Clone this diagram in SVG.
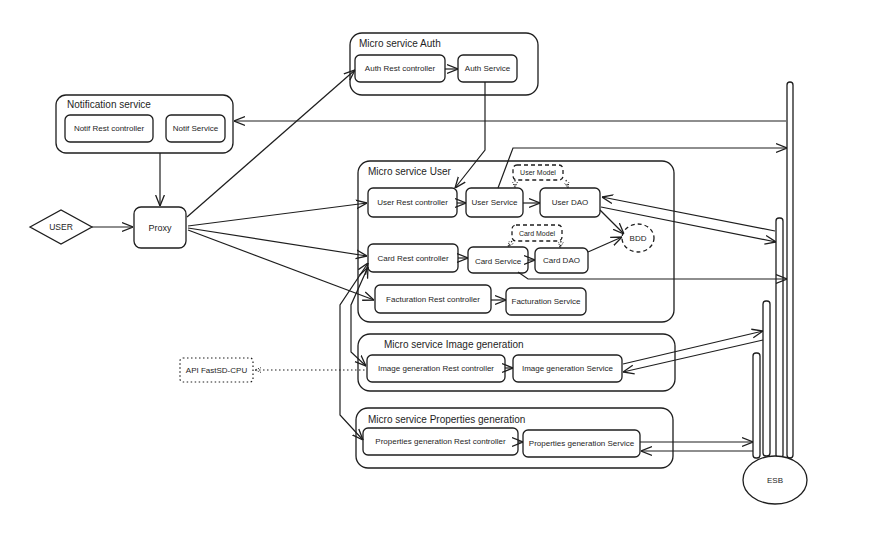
<svg xmlns="http://www.w3.org/2000/svg" width="876" height="538" viewBox="0 0 876 538">
<defs>
<style>
.c{fill:none;stroke:#1e1e1e;stroke-width:1.3}
.n{fill:#fff;stroke:#1e1e1e;stroke-width:1.3}
.d{fill:#fff;stroke:#1e1e1e;stroke-width:1.3;stroke-dasharray:4 3}
.o{fill:#fff;stroke:#1e1e1e;stroke-width:1.2;stroke-dasharray:1.5 2.5}
.t{font-family:"Liberation Sans",Arial,sans-serif;font-size:10px;fill:#1e1e1e}
.s{font-family:"Liberation Sans",Arial,sans-serif;font-size:8px;fill:#1e1e1e;text-anchor:middle;dominant-baseline:central}
.l{fill:none;stroke:#1e1e1e;stroke-width:1.2}
.dl{fill:none;stroke:#1e1e1e;stroke-width:1.2;stroke-dasharray:1.5 2.5}
</style>
<marker id="ah" viewBox="0 0 10 10" refX="10" refY="5" markerWidth="11" markerHeight="11" orient="auto-start-reverse" markerUnits="userSpaceOnUse"><path d="M0,1 L10,5 L0,9" fill="none" stroke="#1e1e1e" stroke-width="1.2"/></marker>
<marker id="sm" viewBox="0 0 10 10" refX="10" refY="5" markerWidth="6" markerHeight="6" orient="auto-start-reverse" markerUnits="userSpaceOnUse"><path d="M0,1 L10,5 L0,9" fill="none" stroke="#1e1e1e" stroke-width="1.5" stroke-dasharray="2 2"/></marker>
</defs>
<rect width="876" height="538" fill="#fff"/>

<g id="containers">
<g id="auth-ms"><rect class="c" x="350" y="33" width="188" height="62" rx="12"/><text class="t" x="359" y="47">Micro service Auth</text></g>
<g id="notif-ms"><rect class="c" x="56" y="95" width="177" height="58" rx="10"/><text class="t" x="67" y="108">Notification service</text></g>
<g id="user-ms"><rect class="c" x="358" y="161" width="316" height="161" rx="12"/><text class="t" x="368" y="175">Micro service User</text></g>
<g id="image-ms"><rect class="c" x="358" y="334" width="317" height="57" rx="12"/><text class="t" x="384" y="348">Micro service Image generation</text></g>
<g id="props-ms"><rect class="c" x="356" y="408" width="317" height="60" rx="12"/><text class="t" x="368" y="423">Micro service Properties generation</text></g>
</g>

<g id="auth-rest"><rect class="n" x="355" y="55" width="90" height="27" rx="5"/><text class="s" x="400" y="68.5">Auth Rest controller</text></g>
<g id="auth-service"><rect class="n" x="458" y="55" width="59" height="27" rx="5"/><text class="s" x="487.5" y="68.5">Auth Service</text></g>
<g id="notif-rest"><rect class="n" x="65" y="115" width="88" height="27" rx="5"/><text class="s" x="109" y="128.5">Notif Rest controller</text></g>
<g id="notif-service"><rect class="n" x="166" y="115" width="59" height="27" rx="5"/><text class="s" x="195.5" y="128.5">Notif Service</text></g>
<g id="user"><polygon class="n" points="30,227 61,210 92,227 61,244"/><text class="s" x="61" y="227" style="font-size:8.5px">USER</text></g>
<g id="proxy"><rect class="n" x="134" y="207" width="52" height="41" rx="7"/><text class="s" x="160" y="227.5" style="font-size:9px">Proxy</text></g>

<g id="user-rest"><rect class="n" x="368" y="188" width="89" height="29" rx="5"/><text class="s" x="412.5" y="202.5">User Rest controller</text></g>
<g id="user-service"><rect class="n" x="466" y="188" width="57" height="29" rx="5"/><text class="s" x="494.5" y="202.5">User Service</text></g>
<g id="user-dao"><rect class="n" x="540" y="188" width="60" height="29" rx="5"/><text class="s" x="570" y="202.5">User DAO</text></g>
<g id="user-model"><rect class="d" x="513" y="165" width="50" height="15" rx="4"/><text class="s" x="538" y="172.5" style="font-size:7px">User Model</text></g>
<g id="bdd"><ellipse class="d" cx="638" cy="238" rx="16" ry="14"/><text class="s" x="638" y="238">BDD</text></g>
<g id="card-model"><rect class="d" x="512" y="225" width="50" height="16" rx="4"/><text class="s" x="537" y="233" style="font-size:7px">Card Model</text></g>
<g id="card-rest"><rect class="n" x="368" y="244" width="90" height="28" rx="5"/><text class="s" x="413" y="258">Card Rest controller</text></g>
<g id="card-service"><rect class="n" x="468" y="247" width="60" height="26" rx="5"/><text class="s" x="498" y="261">Card Service</text></g>
<g id="card-dao"><rect class="n" x="535" y="248" width="53" height="25" rx="5"/><text class="s" x="561.5" y="260.5">Card DAO</text></g>
<g id="fact-rest"><rect class="n" x="375" y="285" width="116" height="28" rx="5"/><text class="s" x="433" y="299">Facturation Rest controller</text></g>
<g id="fact-service"><rect class="n" x="506" y="288" width="80" height="27" rx="5"/><text class="s" x="546" y="301.5">Facturation Service</text></g>

<g id="api-fastsd"><rect class="o" x="180" y="358" width="73" height="24" rx="3"/><text class="s" x="216.5" y="370">API FastSD-CPU</text></g>
<g id="image-rest"><rect class="n" x="367" y="355" width="138" height="27" rx="5"/><text class="s" x="436" y="368.5">Image generation Rest controller</text></g>
<g id="image-service"><rect class="n" x="513" y="355" width="109" height="27" rx="5"/><text class="s" x="567.5" y="368.5">Image generation Service</text></g>
<g id="props-rest"><rect class="n" x="363" y="428" width="155" height="27" rx="5"/><text class="s" x="440.5" y="441.5">Properties generation Rest controller</text></g>
<g id="props-service"><rect class="n" x="523" y="430" width="117" height="27" rx="5"/><text class="s" x="581.5" y="443.5">Properties generation Service</text></g>

<g id="esb">
<rect class="n" x="787" y="82" width="6" height="376" rx="3"/>
<rect class="n" x="776" y="218" width="7" height="240" rx="3"/>
<rect class="n" x="763" y="301" width="7" height="155" rx="3"/>
<rect class="n" x="753" y="353" width="7" height="105" rx="3"/>
<ellipse class="n" cx="775" cy="480" rx="32" ry="24"/>
<text class="s" x="775" y="480">ESB</text>
</g>

<g id="connectors">
<path class="l" d="M92,227 L133,227" marker-end="url(#ah)"/>
<path class="l" d="M160,153 L160,206" marker-end="url(#ah)"/>
<path class="l" d="M187,217 L355,70" marker-end="url(#ah)"/>
<path class="l" d="M188,226 L367,203" marker-end="url(#ah)"/>
<path class="l" d="M188,228 L367,256" marker-end="url(#ah)"/>
<path class="l" d="M188,230 L374,300" marker-end="url(#ah)"/>
<path class="l" d="M445,69 L458,69" marker-end="url(#ah)"/>
<path class="l" d="M485,82 L485,150 L455,188" marker-end="url(#ah)"/>
<path class="l" d="M498,188 L513,148 L787,148" marker-end="url(#ah)"/>
<path class="l" d="M786,121 L234,121" marker-end="url(#ah)"/>
<path class="l" d="M457,203 L466,203" marker-end="url(#ah)"/>
<path class="l" d="M523,203 L540,203" marker-end="url(#ah)"/>
<path class="l" d="M600,210 L624,234" marker-end="url(#ah)"/>
<path class="l" d="M775,231 L602,197" marker-end="url(#ah)"/>
<path class="l" d="M601,207 L776,242" marker-end="url(#ah)"/>
<path class="l" d="M458,258 L468,258" marker-end="url(#ah)"/>
<path class="l" d="M528,260 L535,260" marker-end="url(#ah)"/>
<path class="l" d="M588,252 L622,237" marker-end="url(#ah)"/>
<path class="l" d="M518,272 L528,279 L787,279" marker-end="url(#ah)"/>
<path class="l" d="M491,300 L506,300" marker-end="url(#ah)"/>
<path class="l" d="M505,368 L513,368" marker-end="url(#ah)"/>
<path class="l" d="M623,364 L763,331" marker-end="url(#ah)"/>
<path class="l" d="M763,340 L623,372" marker-end="url(#ah)"/>
<path class="l" d="M518,442 L523,442" marker-end="url(#ah)"/>
<path class="l" d="M640,442 L753,442" marker-end="url(#ah)"/>
<path class="l" d="M753,451 L641,451" marker-end="url(#ah)"/>
<path class="l" d="M368,263 L340,305 L340,415 L363,440" marker-start="url(#ah)" marker-end="url(#ah)"/>
<path class="l" d="M368,267 L351,305 L351,352 L366,366" marker-start="url(#ah)" marker-end="url(#ah)"/>
<path class="dl" d="M255,370 L367,370" marker-start="url(#sm)"/>
<path class="dl" d="M515,180 L515,188" marker-end="url(#sm)"/>
<path class="dl" d="M566,180 L568,188" marker-end="url(#sm)"/>
<path class="dl" d="M512,241 L508,247" marker-end="url(#sm)"/>
<path class="dl" d="M561,241 L560,248" marker-end="url(#sm)"/>
</g>
</svg>
